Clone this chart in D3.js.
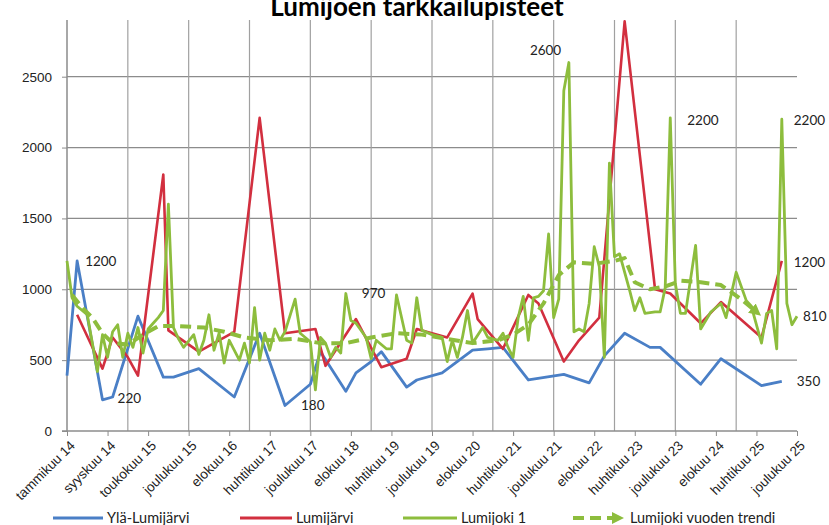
<!DOCTYPE html>
<html>
<head>
<meta charset="utf-8">
<script src="https://cdn.jsdelivr.net/npm/d3@7"></script>
<style>
  body { margin: 0; background: #fff; }
  svg { font-family: Lato, "Open Sans", sans-serif; }
</style>
</head>
<body>
<div id="chart"></div>
<script>
// month index (0 = tammikuu 14) and value
const xLabels = ["tammikuu 14", "syyskuu 14", "toukokuu 15", "joulukuu 15", "elokuu 16",
    "huhtikuu 17", "joulukuu 17", "elokuu 18", "huhtikuu 19", "joulukuu 19", "elokuu 20",
    "huhtikuu 21", "joulukuu 21", "elokuu 22", "huhtikuu 23", "joulukuu 23", "elokuu 24",
    "huhtikuu 25", "joulukuu 25"];
const yTicks = [0, 500, 1000, 1500, 2000, 2500];

const ylaLumijarvi = [[0, 390], [2, 1200], [7, 220], [9, 240], [14, 810], [19, 380], [21, 380],
    [26, 440], [33, 240], [38, 690], [43, 180], [48, 330], [50, 560], [55, 280], [57, 410],
    [60, 490], [62, 560], [67, 310], [69, 360], [74, 410], [80, 570], [83, 580], [86, 590],
    [91, 360], [98, 400], [103, 340], [106, 530], [110, 690], [115, 590], [117, 590],
    [125, 330], [129, 510], [137, 320], [141, 350]];

const lumijarvi = [[2, 820], [7, 440], [9, 660], [12, 520], [14, 390], [19, 1810], [20, 710],
    [26, 560], [33, 700], [38, 2210], [43, 690], [49, 720], [51, 460], [57, 790], [62, 450],
    [67, 510], [69, 720], [75, 660], [80, 970], [81, 790], [86, 580], [91, 960], [93, 900],
    [98, 490], [101, 640], [105, 800], [110, 2890], [116, 1000], [119, 970], [125, 760],
    [129, 910], [137, 660], [141, 1200]];

const lumijoki1 = [[0, 1200], [1, 940], [2, 880], [4, 820], [6, 420], [7, 680], [8, 520],
    [9, 700], [10, 750], [11, 520], [12, 690], [13, 590], [14, 730], [15, 550], [16, 720],
    [17, 760], [18, 800], [19, 850], [20, 1600], [21, 730], [22, 650], [23, 590], [25, 680],
    [26, 540], [27, 640], [28, 820], [29, 570], [30, 690], [31, 480], [32, 640], [34, 500],
    [35, 620], [36, 480], [37, 870], [38, 500], [39, 690], [40, 570], [41, 720], [42, 640],
    [43, 700], [45, 930], [46, 690], [47, 660], [48, 630], [49, 290], [50, 660], [51, 620],
    [52, 520], [53, 590], [54, 550], [55, 970], [56, 780], [57, 760], [59, 660], [60, 510],
    [61, 640], [63, 580], [64, 580], [65, 960], [67, 640], [68, 620], [69, 940], [70, 710],
    [72, 680], [74, 660], [75, 490], [76, 640], [77, 520], [78, 660], [79, 850], [80, 620],
    [82, 730], [83, 660], [85, 640], [86, 690], [87, 590], [88, 520], [89, 800], [90, 950],
    [91, 640], [92, 940], [93, 950], [94, 990], [95, 1390], [96, 800], [97, 930], [98, 2400],
    [99, 2600], [100, 700], [101, 720], [102, 700], [103, 900], [104, 1300], [105, 1160],
    [106, 520], [107, 1890], [108, 1230], [109, 1250], [111, 990], [112, 850], [113, 940],
    [114, 830], [116, 840], [117, 840], [118, 1010], [119, 2210], [120, 1040], [121, 830],
    [122, 830], [124, 1310], [125, 720], [127, 840], [129, 900], [130, 800], [132, 1120],
    [134, 920], [135, 880], [137, 620], [138, 830], [139, 850], [140, 580], [141, 2200],
    [142, 900], [143, 750], [144, 810]];

const trendi = [[1, 960], [3, 870], [5, 800], [7, 690], [9, 620], [12, 610], [15, 680],
    [18, 740], [22, 740], [27, 730], [31, 700], [35, 660], [40, 640], [45, 650], [50, 620],
    [55, 620], [60, 660], [65, 690], [70, 680], [75, 650], [80, 620], [85, 640], [88, 680],
    [91, 750], [94, 900], [97, 1100], [100, 1190], [104, 1180], [108, 1200], [110, 1220],
    [112, 1050], [115, 1000], [118, 1020], [121, 1060], [125, 1050], [129, 1030], [133, 930],
    [136, 840]];

const annotations = [
    {t: 2, v: 1200, text: "1200", dx: 8, dy: 0},
    {t: 8, v: 230, text: "220", dx: 10, dy: 0},
    {t: 43, v: 180, text: "180", dx: 16, dy: 0},
    {t: 55, v: 970, text: "970", dx: 16, dy: 0},
    {t: 99, v: 2600, text: "2600", dx: -39, dy: -12},
    {t: 119, v: 2200, text: "2200", dx: 17, dy: 1},
    {t: 141, v: 2200, text: "2200", dx: 12, dy: 1},
    {t: 141, v: 1200, text: "1200", dx: 12, dy: 1},
    {t: 144, v: 810, text: "810", dx: 6, dy: 0},
    {t: 141, v: 350, text: "350", dx: 15, dy: 0}
];

const width = 829, height = 525;
const margin = {top: 20, right: 32, bottom: 94, left: 67};

const svg = d3.select("#chart").append("svg")
    .attr("width", width)
    .attr("height", height);

const x = d3.scaleLinear().domain([0, 144]).range([margin.left, width - margin.right]);
const y = d3.scaleLinear().domain([0, 2900]).range([height - margin.bottom, margin.top]);

// title (cut at the top like in the original)
svg.append("text")
    .attr("x", 417)
    .attr("y", 16)
    .attr("text-anchor", "middle")
    .style("font-size", "26px")
    .style("font-weight", "bold")
    .text("Lumijoen tarkkailupisteet");

// gridlines
svg.append("g").selectAll("line")
    .data(yTicks.slice(1))
    .enter().append("line")
    .attr("x1", x(0)).attr("x2", x(144))
    .attr("y1", d => y(d)).attr("y2", d => y(d))
    .attr("stroke", "#8c8c8c").attr("stroke-width", 1.2);

svg.append("g").selectAll("line")
    .data(d3.range(12, 144, 12))
    .enter().append("line")
    .attr("x1", d => x(d)).attr("x2", d => x(d))
    .attr("y1", y(0)).attr("y2", margin.top)
    .attr("stroke", "#a0a0a0").attr("stroke-width", 1.2);

// axes
const yAxis = svg.append("g")
    .attr("transform", `translate(${x(0)},0)`)
    .call(d3.axisLeft(y).tickValues(yTicks).tickSize(5).tickPadding(10).tickFormat(d3.format("d")));
yAxis.select(".domain").attr("stroke", "#8c8c8c").attr("stroke-width", 1.5)
    .attr("d", `M-5,${y(0)}H0V${margin.top}`);
yAxis.selectAll(".tick line").attr("stroke", "#8c8c8c");
yAxis.selectAll("text").style("font-size", "13.5px").style("fill", "#222");

const xAxis = svg.append("g")
    .attr("transform", `translate(0,${y(0)})`)
    .call(d3.axisBottom(x).tickValues(d3.range(0, 145, 8)).tickSize(5)
        .tickFormat((d, i) => xLabels[i]));
xAxis.select(".domain").attr("stroke", "#8c8c8c").attr("stroke-width", 1.5)
    .attr("d", `M${x(0)},0H${x(144)}`);
xAxis.selectAll(".tick line").attr("stroke", "#8c8c8c");
xAxis.selectAll("text")
    .attr("text-anchor", "end")
    .attr("transform", "translate(5,12) rotate(-45)")
    .attr("x", 0).attr("y", 0).attr("dy", "0.35em")
    .style("font-size", "13.5px").style("fill", "#222");

// series
const line = d3.line().x(d => x(d[0])).y(d => y(d[1]));
const colors = {yla: "#4a7fc6", lumi: "#d22f3f", joki: "#8dbd3d"};

svg.append("defs").append("marker")
    .attr("id", "arrow")
    .attr("viewBox", "0 0 10 10")
    .attr("refX", 5).attr("refY", 5)
    .attr("markerWidth", 3).attr("markerHeight", 3)
    .attr("orient", "auto")
    .append("path").attr("d", "M0,0L10,5L0,10Z").attr("fill", colors.joki);

function drawSeries(data, color, w, dash) {
    const p = svg.append("path")
        .datum(data)
        .attr("d", line)
        .attr("fill", "none")
        .attr("stroke", color)
        .attr("stroke-width", w)
        .attr("stroke-linejoin", "round");
    if (dash) p.attr("stroke-dasharray", dash).attr("marker-end", "url(#arrow)");
    return p;
}

drawSeries(ylaLumijarvi, colors.yla, 2.8);
drawSeries(lumijarvi, colors.lumi, 2.6);
drawSeries(lumijoki1, colors.joki, 2.8);
drawSeries(trendi, colors.joki, 4, "11,6");

// data labels
svg.append("g").selectAll("text")
    .data(annotations)
    .enter().append("text")
    .attr("x", d => x(d.t) + d.dx)
    .attr("y", d => y(d.v) + d.dy)
    .attr("dy", "0.35em")
    .style("font-size", "13.5px")
    .style("fill", "#222")
    .text(d => d.text);

// legend
const legend = [
    {name: "Ylä-Lumijärvi", color: colors.yla, x1: 53, x2: 103},
    {name: "Lumijärvi", color: colors.lumi, x1: 240, x2: 292},
    {name: "Lumijoki 1", color: colors.joki, x1: 403, x2: 457},
    {name: "Lumijoki vuoden trendi", color: colors.joki, x1: 573, x2: 618, dash: true}
];
const lg = svg.append("g").attr("transform", "translate(0,518)");
legend.forEach(d => {
    const l = lg.append("line")
        .attr("x1", d.x1).attr("x2", d.x2)
        .attr("y1", 0).attr("y2", 0)
        .attr("stroke", d.color)
        .attr("stroke-width", d.dash ? 4 : 3);
    if (d.dash) l.attr("stroke-dasharray", "11,6").attr("marker-end", "url(#arrow)");
    lg.append("text")
        .attr("x", d.x2 + (d.dash ? 12 : 4))
        .attr("y", 0)
        .attr("dy", "0.35em")
        .style("font-size", "14.5px")
        .style("fill", "#222")
        .text(d.name);
});
</script>
</body>
</html>
